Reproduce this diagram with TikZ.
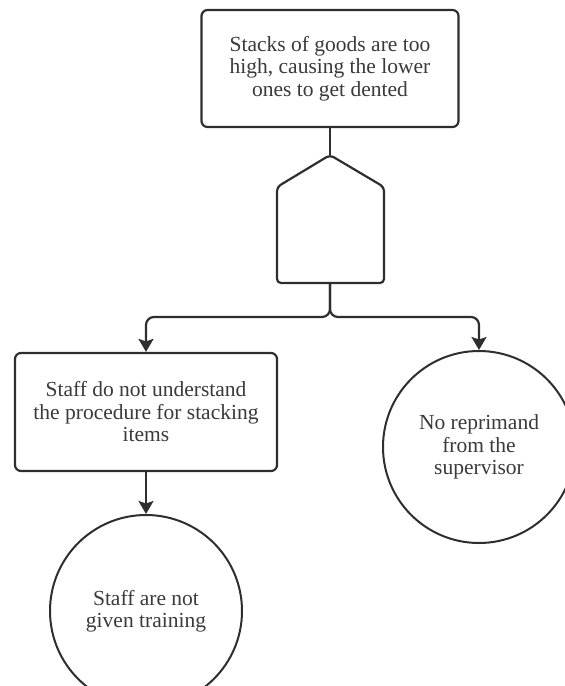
\documentclass[tikz,border=0pt]{standalone}
\usepackage{fontspec}
\setmainfont{Liberation Serif}
\usetikzlibrary{arrows.meta}
\definecolor{ink}{HTML}{2E2E2E}
\definecolor{txt}{HTML}{3A3A3A}
\tikzset{
  every node/.style={text=txt, font=\fontsize{21.5}{22.5}\selectfont, align=center, inner sep=0pt},
  stepbox/.style={draw=ink, line width=2.2pt, rounded corners=6pt, minimum width=#1, fill=white},
  causecircle/.style={draw=ink, line width=2pt, circle, minimum size=192pt},
  link/.style={draw=ink, line width=2.2pt},
  arrowlink/.style={link, -{Stealth[length=13pt,width=15pt,inset=2.5pt]}},
  branch/.style={arrowlink, rounded corners=8pt}
}
\begin{document}
\begin{tikzpicture}[x=1pt,y=-1pt]
\useasboundingbox (0,0) rectangle (565,686);
\clip (0,0) rectangle (565,686);

% problem statement
\node[stepbox=257pt, minimum height=117pt] (top) at (330,68.5)
  {Stacks of goods are too\\high, causing the lower\\ones to get dented};

% gate between the problem and its causes
\coordinate (gateTop) at (330,155);
\coordinate (gateBot) at (330,283);
\coordinate (split) at (330,317);
\draw[link, rounded corners=4pt, line join=round]
  (gateTop) -- (384,187) -- (384,283) -- (277,283) -- (277,187) -- cycle;

% causes
\node[stepbox=262pt, minimum height=118pt] (left) at (146,412)
  {Staff do not understand\\the procedure for stacking\\items};
\node[causecircle] (right) at (479,447) {No reprimand\\from the\\supervisor};
\node[causecircle] (root) at (146,611) {Staff are not\\given training};

% connectors
\draw[link] (top.south) -- (gateTop);
\draw[branch] (gateBot) -- (split) -| (left.north);
\draw[branch] (gateBot) -- (split) -| (right.north);
\draw[arrowlink] (left.south) -- (root.north);
\end{tikzpicture}
\end{document}
